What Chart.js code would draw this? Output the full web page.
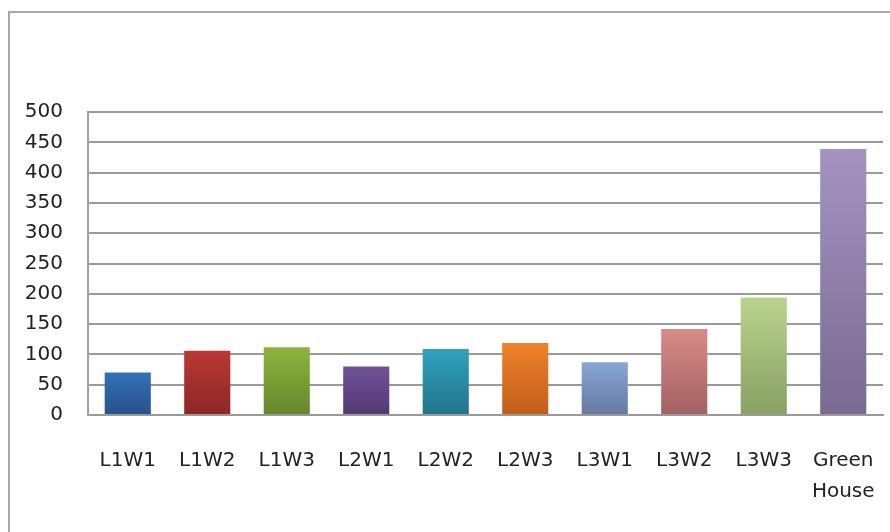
<!DOCTYPE html>
<html>
<head>
<meta charset="utf-8">
<script src="https://cdn.jsdelivr.net/npm/chart.js@4.4.1/dist/chart.umd.min.js"></script>
<style>
  body { margin: 0; background: #fff; overflow: hidden; }
  #frame { position: absolute; left: 8px; top: 11px; width: 900px; height: 600px; border: 2px solid #a8a8a8; }
  #wrap { position: absolute; left: 0; top: 0; width: 890px; height: 532px; }
</style>
</head>
<body>
<div id="frame"></div>
<div id="wrap"><canvas id="grafico" width="890" height="532"></canvas></div>
<script>
// Categorias e valores
const categorias = ['L1W1', 'L1W2', 'L1W3', 'L2W1', 'L2W2', 'L2W3', 'L3W1', 'L3W2', 'L3W3', ['Green', 'House']];
const valores = [70, 106, 112, 80, 109, 119, 87, 142, 194, 439];
const ticksY = [0, 50, 100, 150, 200, 250, 300, 350, 400, 450, 500];

// Cores de cada barra (topo, base)
const coresTopo = ['#3470b8', '#bb3834', '#8db43e', '#71529a', '#2fa2c0', '#f0822a', '#87a6d8', '#d88a88', '#b9d38e', '#a493c0'];
const coresBase = ['#275289', '#8b2826', '#66872d', '#523a73', '#227489', '#bf5f1a', '#65799e', '#a26262', '#87a064', '#7a6a91'];

function gradiente(context) {
    const chart = context.chart;
    const i = context.dataIndex;
    if (!chart.chartArea || i === undefined) return coresTopo[i] || '#888';
    const y = chart.scales.y;
    const topo = y.getPixelForValue(valores[i]);
    const base = y.getPixelForValue(0);
    const g = chart.ctx.createLinearGradient(0, topo, 0, base);
    g.addColorStop(0, coresTopo[i]);
    g.addColorStop(1, coresBase[i]);
    return g;
}

const ctx = document.getElementById('grafico').getContext('2d');
new Chart(ctx, {
    type: 'bar',
    data: {
        labels: categorias,
        datasets: [{
            data: valores,
            backgroundColor: gradiente,
            borderWidth: 0,
            categoryPercentage: 1,
            barPercentage: 0.58
        }]
    },
    options: {
        responsive: false,
        animation: false,
        layout: { padding: { top: 112, right: 7, left: 0, bottom: 0 } },
        plugins: { legend: { display: false }, tooltip: { enabled: false } },
        scales: {
            x: {
                grid: { display: false, drawTicks: false },
                border: { display: true, color: '#9a9a9a', width: 2 },
                ticks: {
                    color: '#222',
                    padding: 30,
                    maxRotation: 0,
                    autoSkip: false,
                    font: { family: 'DejaVu Sans', size: 20, lineHeight: 1.55 }
                },
                afterFit: s => { s.height = 117; s.paddingLeft = 0; s.paddingRight = 0; }
            },
            y: {
                min: 0,
                max: 500,
                afterBuildTicks: s => { s.ticks = ticksY.map(v => ({ value: v })); },
                grid: { color: '#9a9a9a', lineWidth: 2, drawTicks: false },
                border: { display: true, color: '#a0a0a0', width: 2 },
                ticks: {
                    color: '#222',
                    padding: 25,
                    font: { family: 'DejaVu Sans', size: 20 }
                },
                afterFit: s => { s.width = 88; s.paddingTop = 0; s.paddingBottom = 0; }
            }
        }
    }
});
</script>
</body>
</html>
